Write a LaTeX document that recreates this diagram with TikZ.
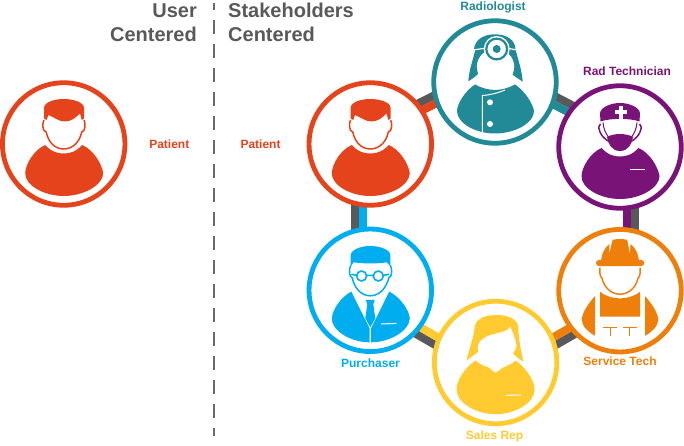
\documentclass[tikz,border=0pt]{standalone}
\usepackage{fontspec}
\setmainfont{Liberation Sans}
\usetikzlibrary{calc}
\definecolor{cpat}{HTML}{E5431B}
\definecolor{crad}{HTML}{218A96}
\definecolor{ctec}{HTML}{7A1378}
\definecolor{cpur}{HTML}{00AEEF}
\definecolor{csal}{HTML}{FFCB31}
\definecolor{csrv}{HTML}{EF7F0B}
\definecolor{cgry}{HTML}{58595B}
\definecolor{ctit}{HTML}{595959}
\newcommand{\bodypath}{(-18.5,1) .. controls (-30,6) and (-38,20) .. (-38.5,29) .. controls (-39,41) and (-20,52) .. (0,52) .. controls (20,52) and (39.5,41) .. (39.5,29) .. controls (38,20) and (30,6) .. (18.5,1) .. controls (12,8) and (6,9.5) .. (0,9.5) .. controls (-6,9.5) and (-12,8) .. (-18.5,1) -- cycle}
\newcommand{\facepath}{(-19.7,-24) .. controls (-21.5,-21) and (-21.5,-12.5) .. (-17.5,-12) .. controls (-15.5,-2) and (-9,5) .. (0,5) .. controls (9,5) and (16,-2) .. (18,-12) .. controls (22,-12.5) and (22,-21) .. (20.3,-24)}
\tikzset{
  ring/.style={circle,draw=#1,fill=white,line width=4.8pt,minimum size=122.5pt,inner sep=0pt},
  lab/.style={text=#1,font=\bfseries\fontsize{12}{12}\selectfont,inner sep=0pt,anchor=center},
  titlab/.style={text=ctit,font=\bfseries\fontsize{20}{24}\selectfont,inner sep=0pt},
  wline/.style={draw=white,line width=1pt},
  patientfig/.pic={
    \fill[cpat] \bodypath;
    \fill[cpat] (-19.7,-25.5) -- (-19.7,-36) .. controls (-19.5,-42) and (-9,-45) .. (0,-45) .. controls (9,-45) and (20.3,-42) .. (20.3,-36) -- (20.3,-25.5) -- (18,-24) -- (16.3,-30.7) .. controls (12,-26) and (7,-22.5) .. (1.3,-22.5) .. controls (-5,-22.5) and (-10,-27) .. (-15.3,-29) -- (-17,-24) -- cycle;
    \draw[cpat,line width=1.5pt] \facepath;
  },
  radfig/.pic={
    \fill[crad] (-20,2.5) .. controls (-30,9) and (-38,22) .. (-38,29) .. controls (-38,41) and (-20,51.5) .. (0,51.5) .. controls (20,51.5) and (39,41) .. (39,29) .. controls (38,22) and (30,9) .. (20,2.5) .. controls (14,6) and (6,8) .. (0,8) .. controls (-6,8) and (-14,6) .. (-20,2.5) -- cycle;
    \fill[crad] (-21,-33) .. controls (-20,-42) and (-12,-47.7) .. (0,-47.7) .. controls (12,-47.7) and (20,-42) .. (20.5,-33) .. controls (23,-22) and (27,-12) .. (27.7,-0.3) .. controls (24,-3) and (20,-5) .. (17,-8) -- (-17,-8) .. controls (-20,-5) and (-23,-3) .. (-26.7,-0.7) .. controls (-26,-12) and (-22,-22) .. (-20,-31) -- cycle;
    \fill[white] (0.5,-15.3) ellipse [x radius=18.7,y radius=17.8];
    \draw[white,line width=1.2pt] (-22,-32) -- (-8,-34) (11,-34) -- (22,-32);
    \fill[white] (1.7,-33) circle [radius=13];
    \draw[crad,line width=2.2pt] (1.7,-33) circle [radius=10.4];
    \fill[crad] (1.7,-33) circle [radius=4];
    \draw[wline] (10,8) .. controls (3,11) and (-5,13) .. (-12.7,13.5) -- (-12.7,51.5);
    \fill[white] (-5,20.3) circle [radius=3] (-5,42) circle [radius=3];
  },
  tecfig/.pic={
    \fill[ctec] \bodypath;
    \draw[wline] (10,23) -- (25,23);
    \fill[ctec] (-19.5,-25.5) -- (-20,-34) .. controls (-19,-40) and (-9,-44) .. (0,-44) .. controls (9,-44) and (19,-40) .. (20,-34) -- (19.5,-25.5) .. controls (10,-29) and (-10,-29) .. (-19.5,-25.5) -- cycle;
    \fill[white] (-1.2,-41) rectangle (3.2,-28.4);
    \fill[white] (-5.3,-37) rectangle (7.3,-32.5);
    \fill[ctec] (-13,-10) .. controls (-6,-14) and (6,-14) .. (13,-10) .. controls (12,-3) and (8,4) .. (0,4) .. controls (-8,4) and (-12,-3) .. (-13,-10) -- cycle;
    \draw[ctec,line width=1.5pt] (-19.5,-23) .. controls (-22,-20) and (-21.5,-18) .. (-20,-15) .. controls (-18.5,-11) and (-15,-8) .. (-12,-6);
    \draw[ctec,line width=1.5pt] (19.5,-23) .. controls (22,-20) and (21.5,-18) .. (20,-15) .. controls (18.5,-11) and (15,-8) .. (12,-6);
    \draw[ctec,line width=1pt] (-17,-24.5) .. controls (-16.5,-18) and (-14,-13) .. (-11.5,-10);
    \draw[ctec,line width=1pt] (17,-24.5) .. controls (16.5,-18) and (14,-13) .. (11.5,-10);
  },
  purfig/.pic={
    \fill[cpur] (-19,1.3) .. controls (-30,7) and (-38,20) .. (-38.5,28) .. controls (-39,40) and (-20,52) .. (-0.7,52) -- (-0.7,38) -- cycle;
    \fill[cpur] (19,1.3) .. controls (30,7) and (39,20) .. (39.5,28) .. controls (39.5,40) and (20,52) .. (0.7,52) -- (0.7,38) -- cycle;
    \fill[cpur] (-4.5,9.5) -- (4.5,9.5) -- (3,14) -- (5,28) -- (0,37) -- (-5,28) -- (-3,14) -- cycle;
    \draw[wline] (10.7,33.7) -- (26,33.1);
    \fill[cpur] (-19.7,-24) -- (-19.7,-35) .. controls (-19,-41) and (-9,-44.3) .. (0,-44.3) .. controls (9,-44.3) and (20,-41) .. (20,-35) -- (20,-24) -- (16.5,-28) .. controls (8,-26.5) and (-8,-26.5) .. (-16.5,-28) -- cycle;
    \draw[cpur,line width=1.5pt] (-19.5,-25) .. controls (-21.5,-22) and (-21.5,-13) .. (-18,-12.5) .. controls (-16,-2) and (-9,5.5) .. (0,5.5) .. controls (9,5.5) and (16,-2) .. (18.5,-12.5) .. controls (22,-13) and (22,-22) .. (20,-25);
    \draw[cpur,line width=1.6pt] (-8.7,-14.3) circle [radius=5] (8,-14.3) circle [radius=5] (-3.7,-15) -- (3,-15) (-13.7,-15) -- (-19,-16) (13,-15) -- (19,-16);
  },
  salfig/.pic={
    \fill[csal] (-20,-2) .. controls (-31,5) and (-39,18) .. (-39,27) .. controls (-39,40) and (-20,51.7) .. (0,51.7) .. controls (20,51.7) and (39,40) .. (39,27) .. controls (39,18) and (30,5) .. (20,-2) .. controls (16,1.5) and (12,3.5) .. (7.5,5) -- (0,10.5) -- (-7,5) .. controls (-12,3.5) and (-16,1.5) .. (-20,-2) -- cycle;
    \draw[wline] (10.3,32.9) -- (25.3,32.5);
    \fill[csal] (-21,-35) .. controls (-20,-44) and (-10,-47.5) .. (0,-47.5) .. controls (12,-47.5) and (22,-44) .. (22.7,-35) .. controls (23,-22) and (26,-10) .. (27.7,-1) .. controls (24,-3) and (20,-6) .. (17.5,-9) .. controls (20,-13) and (21,-15) .. (21,-17) .. controls (20,-24) and (17,-31) .. (14.4,-36) .. controls (12,-32) and (8,-31) .. (4,-30) .. controls (-4,-28) and (-14,-26) .. (-17.5,-18) .. controls (-18.5,-15) and (-18,-13) .. (-17.3,-10.8) .. controls (-21,-8) and (-25,-5) .. (-29,-2) .. controls (-27,-12) and (-22,-24) .. (-21,-35) -- cycle;
  },
  srvfig/.pic={
    \fill[csrv] (-25,5.3) .. controls (-31,12) and (-38,22) .. (-38.3,29) .. controls (-38,36) and (-31,42) .. (-25,45) -- cycle;
    \fill[csrv] (25,5.3) .. controls (31,12) and (38,22) .. (38.3,29) .. controls (38,36) and (31,42) .. (25,45) -- cycle;
    \fill[csrv] (-20,1) .. controls (-14,6) and (-6,7.7) .. (0,7.7) .. controls (6,7.7) and (14,6) .. (20,1) -- (20,26) -- (-20,26) -- cycle;
    \draw[csrv,line width=.7pt] (-17,36.7) -- (-3,36.7) (-10,36.7) -- (-10,45) (2.7,36.7) -- (17,36.7) (9.3,36.7) -- (9.3,45);
    \fill[csrv] (-19,-29) .. controls (-18.5,-37) and (-15,-44) .. (-9.5,-47.5) -- (-7,-51) .. controls (-3,-51.8) and (3,-51.8) .. (6.7,-51) -- (9.5,-47.5) .. controls (15,-44) and (18.5,-37) .. (19,-29) -- cycle;
    \fill[csrv,rounded corners=3pt] (-24,-30.7) rectangle (24.3,-24.7);
    \fill[white] (-7.4,-52) -- (-10.5,-38) -- (-10.6,-47.5) -- cycle;
    \fill[white] (7.1,-52) -- (9.8,-38) -- (10.6,-47.5) -- cycle;
    \draw[csrv,line width=1.5pt] (-20,-23) .. controls (-20.5,-18) and (-20,-14) .. (-18,-12.5) .. controls (-16,-3.5) and (-9,3.5) .. (0,3.5) .. controls (9,3.5) and (16,-3.5) .. (18,-12.5) .. controls (20,-14) and (20.5,-18) .. (20,-23);
  }
}
\newcommand{\linkpair}[3]{%
  \draw[cgry,line width=8pt] ($(#1)!15pt!90:(#2)$) -- ($(#2)!15pt!-90:(#1)$);
  \draw[#3,line width=8pt] ($(#1)!7pt!90:(#2)$) -- ($(#2)!7pt!-90:(#1)$);
}
\begin{document}
\begin{tikzpicture}[x=1pt,y=-1pt]
\useasboundingbox (0,0) rectangle (684,446);
\coordinate (cA) at (370.3,144);
\coordinate (cB) at (495,82);
\coordinate (cC) at (620,147);
\coordinate (cD) at (620,290.7);
\coordinate (cE) at (495.6,362.5);
\coordinate (cF) at (370.3,290.3);
\linkpair{cA}{cB}{cpat}
\linkpair{cB}{cC}{crad}
\linkpair{cC}{cD}{ctec}
\linkpair{cD}{cE}{csrv}
\linkpair{cE}{cF}{csal}
\linkpair{cF}{cA}{cpur}
\node[ring=cpat] (single) at (63.7,144) {};
\node[ring=cpat] (patient) at (cA) {};
\node[ring=crad] (radiologist) at (cB) {};
\node[ring=ctec] (tech) at (cC) {};
\node[ring=csrv] (service) at (cD) {};
\node[ring=csal] (sales) at (cE) {};
\node[ring=cpur] (purchaser) at (cF) {};
\pic at (single) {patientfig};
\pic at (patient) {patientfig};
\pic at (radiologist) {radfig};
\pic at (tech) {tecfig};
\pic at (service) {srvfig};
\pic at (sales) {salfig};
\pic at (purchaser) {purfig};
\coordinate (divtop) at (214,3);
\coordinate (divbot) at (214,436);
\draw[ctit!90,line width=2.2pt,dash pattern=on 14pt off 10pt,dash phase=7pt] (divtop) -- (divbot);
\node[lab=cpat] (l1) at (169.3,144) {Patient};
\node[lab=cpat] (l2) at (260.5,144) {Patient};
\node[lab=crad] (l3) at (493,7) {Radiologist};
\node[lab=ctec] (l4) at (627,71.5) {Rad Technician};
\node[lab=cpur] (l5) at (370.5,363.5) {Purchaser};
\node[lab=csal] (l6) at (494.5,436.5) {Sales Rep};
\node[lab=csrv] (l7) at (620,361.5) {Service Tech};
\node[titlab,anchor=base east] (t1) at (197,17.5) {User};
\node[titlab,anchor=base east] (t2) at (197,41.5) {Centered};
\node[titlab,anchor=base west] (t3) at (228,17.5) {Stakeholders};
\node[titlab,anchor=base west] (t4) at (228,41.5) {Centered};
\end{tikzpicture}
\end{document}
